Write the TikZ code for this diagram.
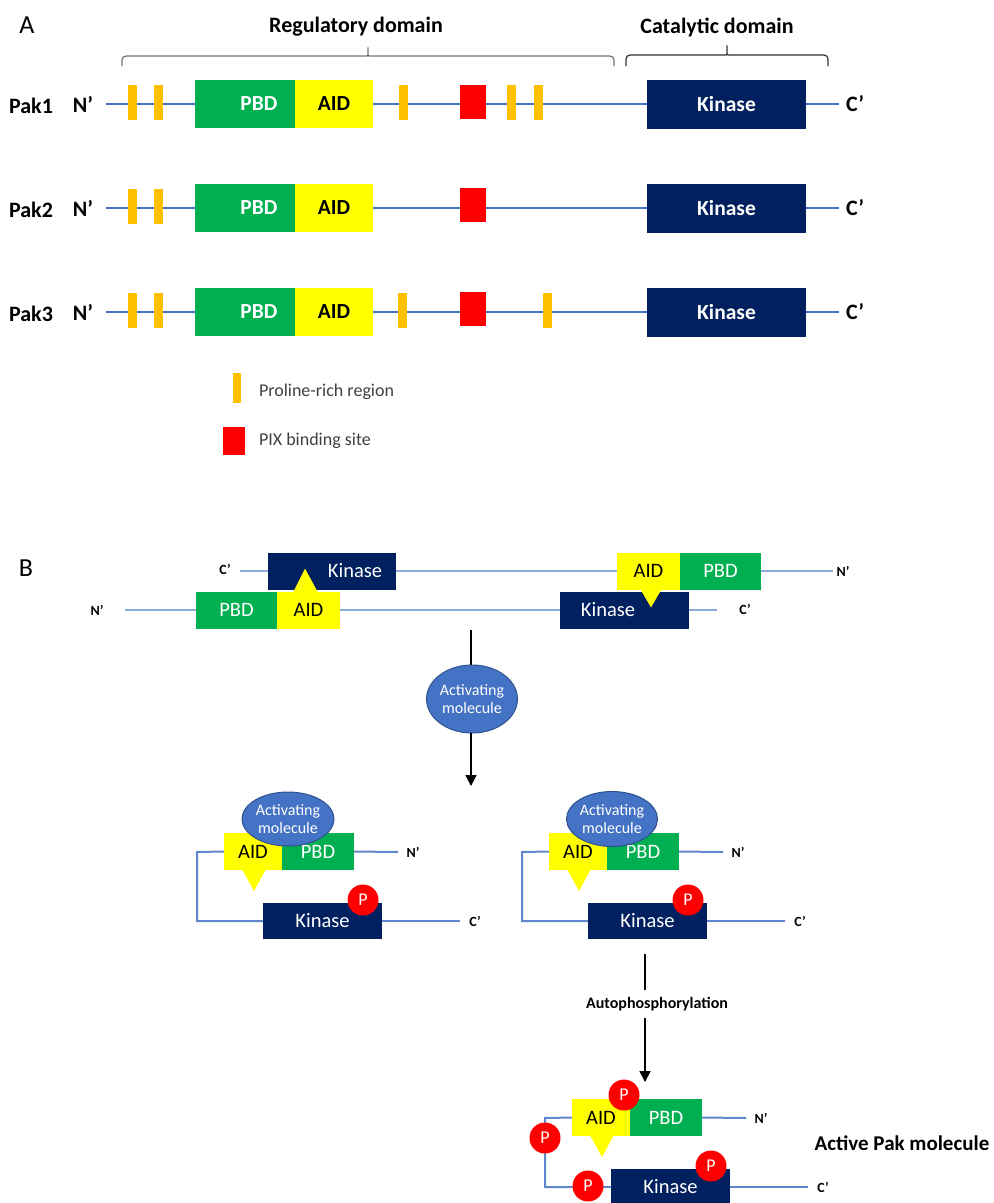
\documentclass[tikz,border=0pt]{standalone}
\usepackage{fontspec}
\setmainfont{Carlito}
\usepackage{tikz}
\usetikzlibrary{arrows.meta,positioning,calc,shapes.geometric,backgrounds}
\definecolor{chainblue}{HTML}{4472C4}
\definecolor{paleline}{HTML}{8FAADC}
\definecolor{prolin}{HTML}{FFC000}
\definecolor{pbdgreen}{HTML}{00B050}
\definecolor{aidyellow}{HTML}{FFFF00}
\definecolor{pixred}{HTML}{FF0000}
\definecolor{kinnavy}{HTML}{002060}
\definecolor{molblue}{HTML}{4472C4}
\definecolor{molrim}{HTML}{2F528F}
\definecolor{legtext}{HTML}{404040}

\begin{document}
\begin{tikzpicture}[x=1pt,y=-1pt,
  every node/.style={inner sep=0pt,outer sep=0pt,align=center},
  tag/.style={font=\fontsize{22}{26}\selectfont\bfseries},
  smalltag/.style={font=\fontsize{14}{16}\selectfont\bfseries},
  panel/.style={font=\fontsize{26}{30}\selectfont},
  dom/.style={minimum height=48pt,font=\fontsize{21.5}{24}\selectfont\bfseries},
  pbd/.style={dom,fill=pbdgreen,text=white,minimum width=100pt},
  aid/.style={dom,fill=aidyellow,minimum width=78pt},
  kin/.style={dom,fill=kinnavy,text=white,minimum width=159pt,minimum height=49pt},
  pro/.style={fill=prolin,minimum width=9pt,minimum height=35pt},
  pix/.style={fill=pixred,minimum width=26pt,minimum height=34pt},
  chain/.style={draw=chainblue,line width=2.2pt},
  bracket/.style={line width=1.2pt,rounded corners=4pt},
  domB/.style={minimum height=37pt,font=\fontsize{20.5}{24}\selectfont},
  pbdB/.style={domB,fill=pbdgreen,text=white,minimum width=81pt},
  aidB/.style={domB,fill=aidyellow,minimum width=63pt},
  kinB/.style={domB,fill=kinnavy,text=white,minimum width=128pt},
  chainB/.style={draw=paleline,line width=2pt},
  pbdC/.style={domB,fill=pbdgreen,text=white,minimum width=72pt},
  aidC/.style={domB,fill=aidyellow,minimum width=58pt},
  kinC/.style={domB,fill=kinnavy,text=white,minimum width=119pt,minimum height=36pt},
  chainC/.style={draw=chainblue!85!white,line width=2pt},
  mol/.style={ellipse,fill=molblue,draw=molrim,line width=1pt,text=white,
              font=\fontsize{16}{18}\selectfont},
  phos/.style={circle,fill=pixred,text=white,minimum size=31pt,
               font=\fontsize{18}{20}\selectfont},
  stem/.style={draw=black,line width=1.5pt}
]
\useasboundingbox (0,0) rectangle (994,1203);
\clip (0,0) rectangle (994,1203);

% panel A
\node[panel] (labA) at (27,25) {A};
\node[tag] (regtxt) at (356,27) {Regulatory domain};
\node[tag] (cattxt) at (717,27) {Catalytic domain};
\coordinate (regL) at (122,66);
\coordinate (regM) at (368,45);
\coordinate (regR) at (614,66);
\coordinate (catL) at (626,66);
\coordinate (catM) at (727,43);
\coordinate (catR) at (828,66);
\draw[bracket,draw=black!55] (regL) |- ($(regM)+(-5,11)$)
  .. controls ($(regM)+(0,11)$) .. (regM)
  .. controls ($(regM)+(0,11)$) .. ($(regM)+(5,11)$) -| (regR);
\draw[bracket,draw=black!80] (catL) |- ($(catM)+(-5,12)$)
  .. controls ($(catM)+(0,12)$) .. (catM)
  .. controls ($(catM)+(0,12)$) .. ($(catM)+(5,12)$) -| (catR);

% Pak1
\node[tag] (pak1) at (31,106) {Pak1};
\node[tag] (nt1) at (83,104) {N’};
\coordinate (s1) at (106,104);
\node[pro] (pa1) at (132.5,102) {};
\node[pro] (pb1) at (158.5,102) {};
\node[pbd,anchor=west] (pbd1) at (195,104) {\hspace*{28pt}PBD};
\node[aid,right=0pt of pbd1] (aid1) {AID};
\node[pro] (pc1) at (403.5,102) {};
\node[pix] (pix1) at (472.5,102) {};
\node[pro] (pd1) at (511.5,102) {};
\node[pro] (pe1) at (538,102) {};
\node[kin] (kin1) at (726.5,104) {Kinase};
\coordinate (e1) at (839,104);
\node[tag] (ct1) at (855,104) {C’};

% Pak2
\node[tag] (pak2) at (31,210) {Pak2};
\node[tag] (nt2) at (83,208) {N’};
\coordinate (s2) at (106,208);
\node[pro] (pa2) at (132.5,206) {};
\node[pro] (pb2) at (158.5,206) {};
\node[pbd,anchor=west] (pbd2) at (195,208) {\hspace*{28pt}PBD};
\node[aid,right=0pt of pbd2] (aid2) {AID};
\node[pix] (pix2) at (472.5,205) {};
\node[kin] (kin2) at (726.5,208) {Kinase};
\coordinate (e2) at (839,208);
\node[tag] (ct2) at (855,208) {C’};

% Pak3
\node[tag] (pak3) at (31,314) {Pak3};
\node[tag] (nt3) at (83,312) {N’};
\coordinate (s3) at (106,312);
\node[pro] (pa3) at (132.5,310) {};
\node[pro] (pb3) at (158.5,310) {};
\node[pbd,anchor=west] (pbd3) at (195,312) {\hspace*{28pt}PBD};
\node[aid,right=0pt of pbd3] (aid3) {AID};
\node[pro] (pc3) at (402,310) {};
\node[pix] (pix3) at (472.5,309) {};
\node[pro] (pe3) at (547,310) {};
\node[kin] (kin3) at (726.5,312) {Kinase};
\coordinate (e3) at (839,312);
\node[tag] (ct3) at (855,312) {C’};

\begin{scope}[on background layer]
  \draw[chain] (s1) -- (pbd1.west) (aid1.east) -- (kin1.west) (kin1.east) -- (e1);
  \draw[chain] (s2) -- (pbd2.west) (aid2.east) -- (kin2.west) (kin2.east) -- (e2);
  \draw[chain] (s3) -- (pbd3.west) (aid3.east) -- (kin3.west) (kin3.east) -- (e3);
\end{scope}

% legend
\node[pro,minimum width=8pt,minimum height=30pt] (legpro) at (237,388) {};
\node[anchor=west,text=legtext,font=\fontsize{18}{20}\selectfont] (legprotxt)
  at (259,392) {Proline-rich region};
\node[pix,minimum width=22pt,minimum height=28pt] (legpix) at (234,441) {};
\node[anchor=west,text=legtext,font=\fontsize{18}{20}\selectfont] (legpixtxt)
  at (259,441) {PIX binding site};

% panel B, inactive dimer
\node[panel] (labB) at (26,568) {B};
\node[smalltag] (ctU) at (225,569) {C’};
\coordinate (cU) at (240,571);
\node[kinB] (kinU) at (332,571) {\hspace*{46pt}Kinase};
\node[aidB,anchor=west] (aidU) at (617,571) {AID};
\node[pbdB,right=0pt of aidU] (pbdU) {PBD};
\coordinate (nU) at (833,571);
\node[smalltag] (ntU) at (843,571) {N’};

\node[smalltag] (ntL) at (97,610) {N’};
\coordinate (nL) at (125,610);
\node[pbdB,anchor=west] (pbdL) at (196,610) {PBD};
\node[aidB,right=0pt of pbdL] (aidL) {AID};
\node[kinB,minimum width=129pt] (kinL) at (624.5,610) {Kinase\hspace*{33pt}};
\coordinate (cL) at (717,610);
\node[smalltag] (ctL) at (745,609) {C’};

\fill[aidyellow] ($(aidL.north)+(-15.5,1)$) -- ($(aidL.north)+(9.5,1)$)
  -- ($(aidL.north)+(-3.5,-23)$) -- cycle;
\fill[aidyellow] ($(aidU.south)+(-8.5,-1)$) -- ($(aidU.south)+(13.5,-1)$)
  -- ($(aidU.south)+(2.5,18)$) -- cycle;

\draw[chainB] (cU) -- (kinU.west) (kinU.east) -- (aidU.west) (pbdU.east) -- (nU);
\draw[chainB] (nL) -- (pbdL.west) (aidL.east) -- (kinL.west) (kinL.east) -- (cL);

% activation arrow
\coordinate (f0) at (471,630);
\node[mol,minimum width=90pt,minimum height=68pt] (molC) at (472,699) {Activating\\molecule};
\coordinate (f1) at (471,786);
\draw[stem] (f0) -- (f0 |- molC.north);
\draw[stem,-{Triangle[length=11pt,width=11pt]}] (f1 |- molC.south) -- (f1);

% open monomers and the active molecule
\foreach \cx/\dx/\dy in {L/0/0,R/325/0,D/348/266}{
  \begin{scope}[shift={(\dx,\dy)}]
    \node[aidC,anchor=east] (aid\cx) at (282,851.5) {AID};
    \node[pbdC,right=0pt of aid\cx] (pbd\cx) {PBD};
    \node[kinC] (kin\cx) at (322.5,921) {Kinase};
    \coordinate (bA\cx) at (197,852);
    \coordinate (bB\cx) at (197,921);
    \coordinate (nE\cx) at (398,852);
    \coordinate (cE\cx) at (460,921);
    \node[smalltag] (nt\cx) at (413,852) {N’};
    \node[smalltag] (ct\cx) at (475,921) {C’};
    \fill[aidyellow] ($(aid\cx.south)+(-11,-1)$) -- ($(aid\cx.south)+(13,-1)$)
      -- ($(aid\cx.south)+(1,21)$) -- cycle;
    \draw[chainC] (aid\cx.west) -- (bA\cx) -- (bB\cx) -- (kin\cx.west);
    \draw[chainC] (pbd\cx.east) -- (nE\cx);
    \draw[chainC] (kin\cx.east) -- (cE\cx);
    \node[phos] (pk\cx) at (363,900) {P};
  \end{scope}
}
\node[mol,minimum width=92pt,minimum height=54pt] (molL) at (288,819) {Activating\\molecule};
\node[mol,minimum width=91pt,minimum height=55pt] (molR) at (612,819) {Activating\\molecule};

% autophosphorylation step
\coordinate (g0) at (645,954);
\node[font=\fontsize{16}{18}\selectfont\bfseries,inner ysep=7pt] (auto) at (657,1004)
  {Autophosphorylation};
\coordinate (g1) at (645,1082);
\draw[stem] (g0) -- (g0 |- auto.north);
\draw[stem,-{Triangle[length=11pt,width=11pt]}] (g1 |- auto.south) -- (g1);

\node[phos] (pD1) at (624,1095) {P};
\node[phos] (pD2) at (545,1138) {P};
\node[phos] (pD3) at (588,1186) {P};
\node[tag,font=\fontsize{21}{24}\selectfont\bfseries] (active) at (902,1143) {Active Pak molecule};
\end{tikzpicture}
\end{document}
